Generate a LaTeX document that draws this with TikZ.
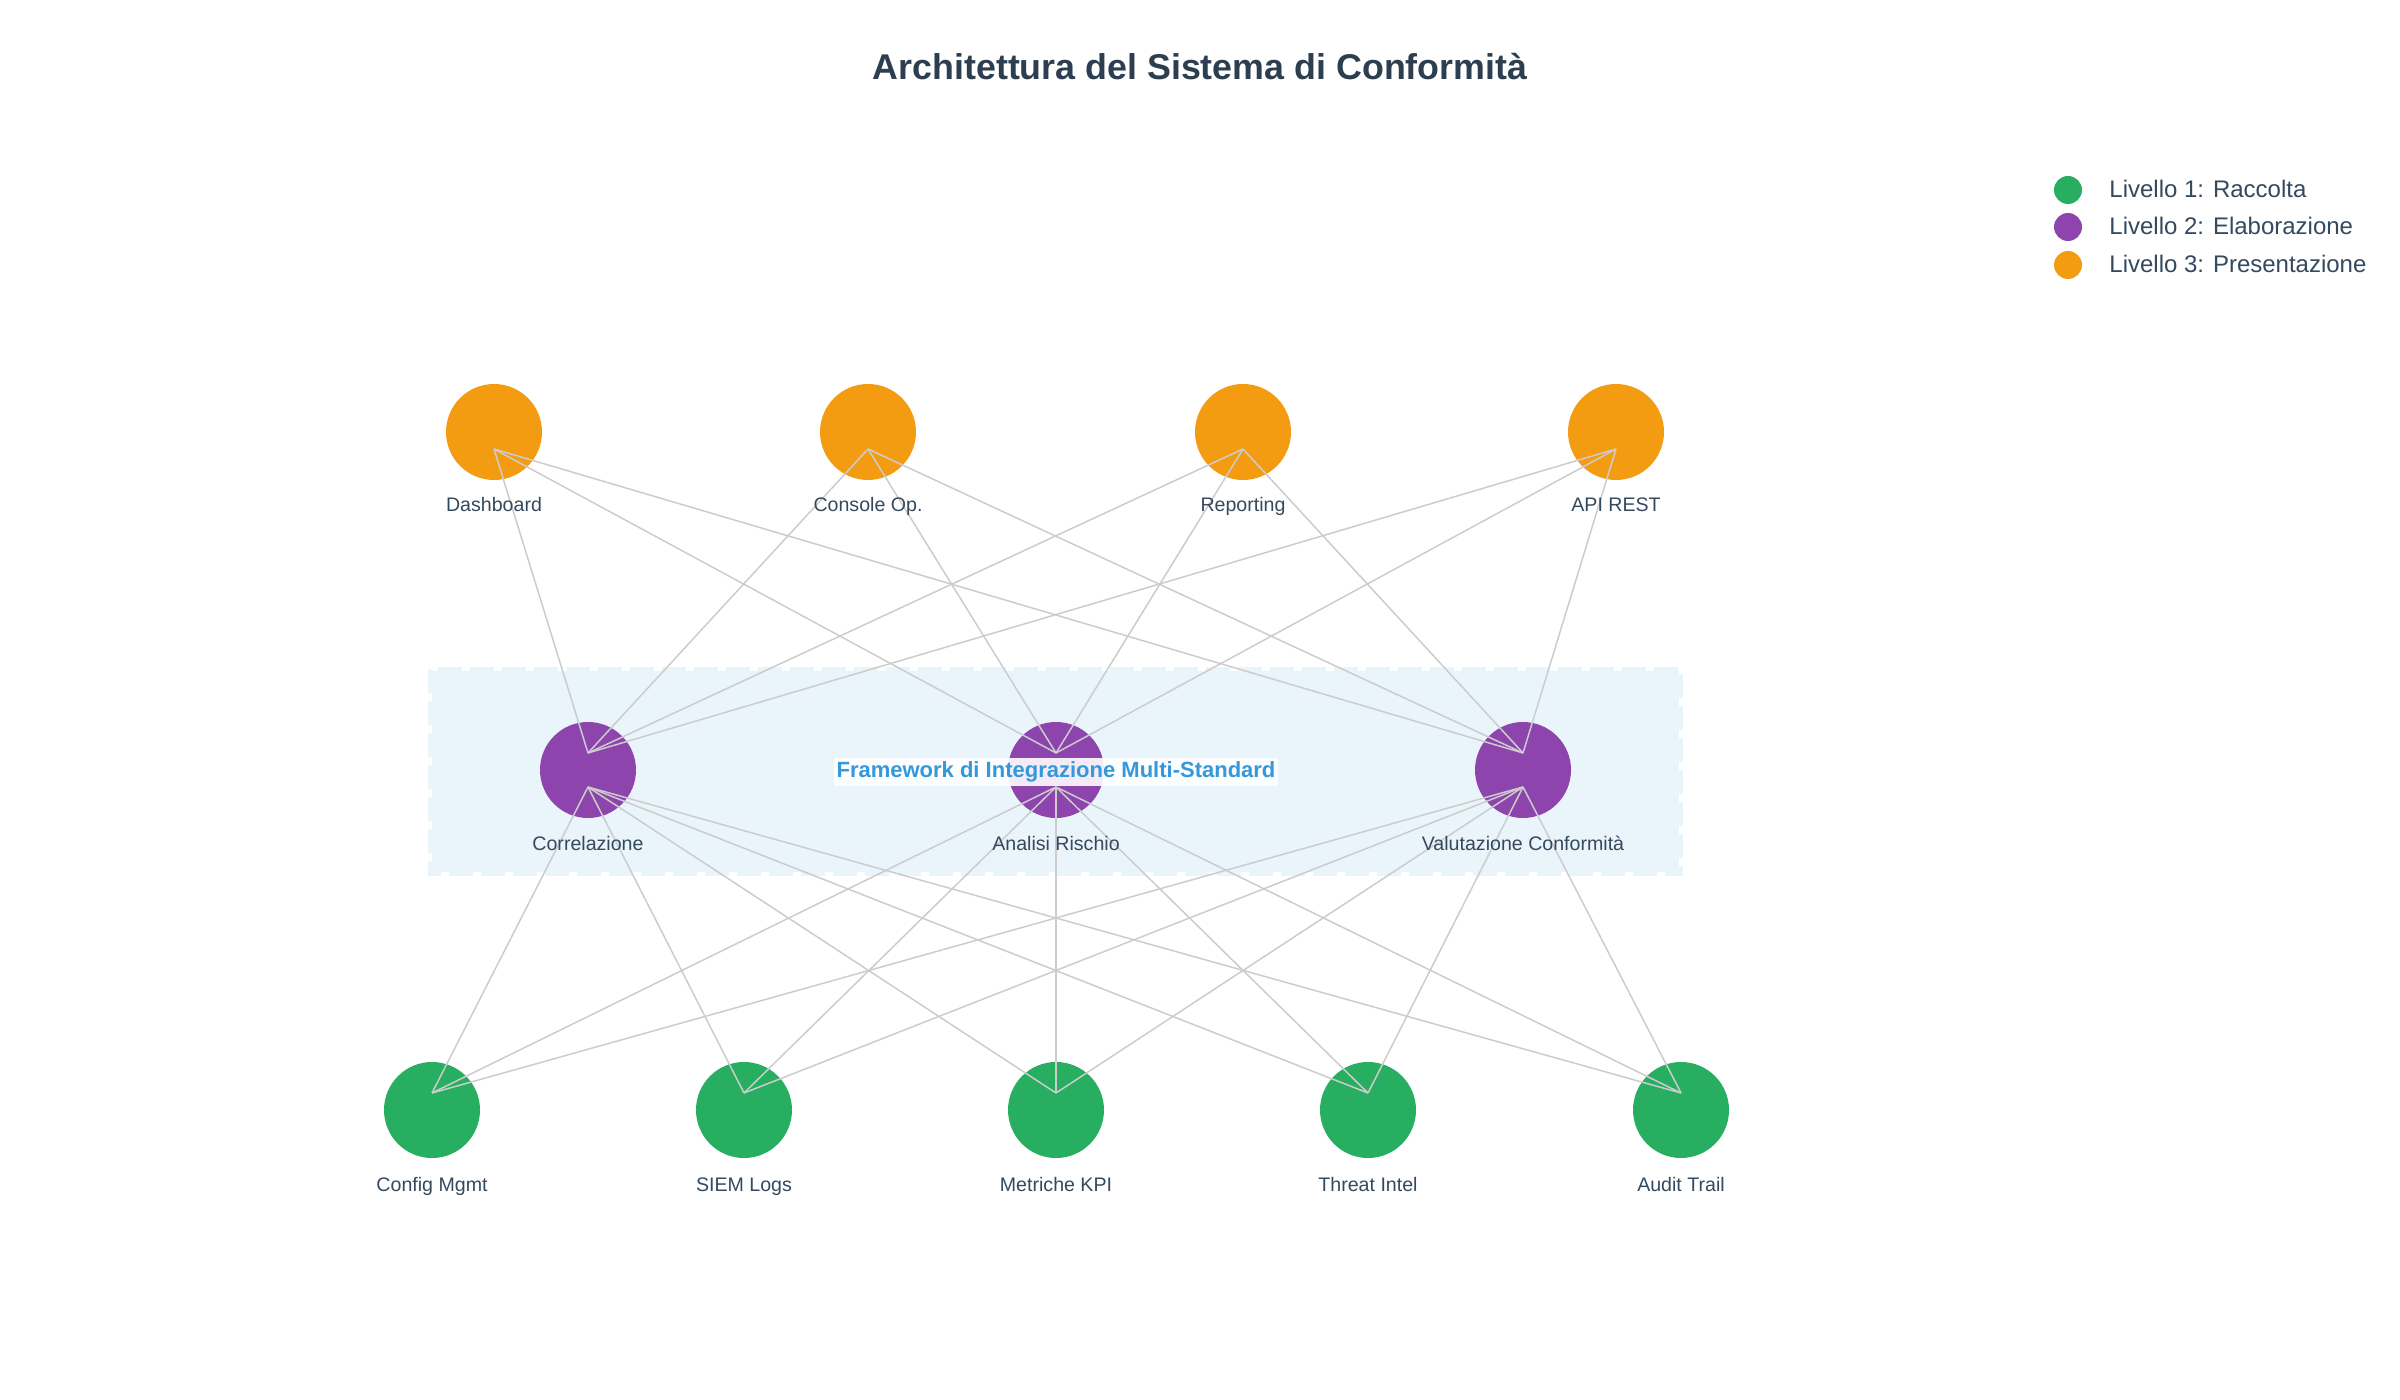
\documentclass[tikz,border=0pt]{standalone}
\usepackage{fontspec}
\setmainfont{Liberation Sans}
\usetikzlibrary{calc}
\definecolor{cOrange}{HTML}{F39C12}
\definecolor{cPurple}{HTML}{8E44AD}
\definecolor{cGreen}{HTML}{27AE60}
\definecolor{cText}{HTML}{2C3E50}
\definecolor{cLabel}{HTML}{34495E}
\definecolor{cEdge}{HTML}{CCCCCC}
\definecolor{cBand}{HTML}{EAF4FB}
\definecolor{cBlue}{HTML}{3498DB}
\tikzset{
  nd/.style={circle, minimum size=48pt, inner sep=0pt, draw=none},
  ndO/.style={nd, fill=cOrange},
  ndP/.style={nd, fill=cPurple},
  ndG/.style={nd, fill=cGreen},
  lbl/.style={font=\fontsize{9.8}{11}\selectfont, text=cLabel, inner sep=0pt, text height=7pt, text depth=2pt},
  edge/.style={draw=cEdge, line width=0.75pt},
  legdot/.style={circle, minimum size=14pt, inner sep=0pt},
  legtxt/.style={font=\fontsize{12}{14}\selectfont, text=cLabel, anchor=west, inner sep=0pt, text height=8.6pt, text depth=2.5pt},
}
\begin{document}
\begin{tikzpicture}[x=0.5pt,y=-0.5pt]
\useasboundingbox (0,0) rectangle (2400,1400);
% background band
\fill[cBand] (432,671) rectangle (1679,872);
\draw[cBand, line width=2pt, dash pattern=on 12pt off 4pt] (430,669) rectangle (1681,874);
% title
\node[font=\bfseries\fontsize{17.9}{20}\selectfont, text=cText] (title) at (1200,67) {Architettura del Sistema di Conformità};
% orange nodes
\node[ndO] (dash) at (494,432) {};
\node[ndO] (cons) at (868,432) {};
\node[ndO] (repo) at (1243,432) {};
\node[ndO] (api)  at (1616,432) {};
% purple nodes
\node[ndP] (corr) at (588,770) {};
\node[ndP] (anal) at (1056,770) {};
\node[ndP] (valu) at (1523,770) {};
% green nodes
\node[ndG] (conf) at (432,1110) {};
\node[ndG] (siem) at (744,1110) {};
\node[ndG] (metr) at (1056,1110) {};
\node[ndG] (thre) at (1368,1110) {};
\node[ndG] (audi) at (1681,1110) {};
% connection points
\foreach \n in {dash,cons,repo,api,corr,anal,valu}{
  \coordinate (\n-lo) at ($(\n.center)+(0,17)$);
}
\foreach \n in {corr,anal,valu,conf,siem,metr,thre,audi}{
  \coordinate (\n-hi) at ($(\n.center)+(0,-17)$);
}
% edges top
\foreach \a in {dash,cons,repo,api}{
  \foreach \b in {corr,anal,valu}{
    \draw[edge] (\a-lo) -- (\b-hi);
  }
}
% edges bottom
\foreach \a in {corr,anal,valu}{
  \foreach \b in {conf,siem,metr,thre,audi}{
    \draw[edge] (\a-lo) -- (\b-hi);
  }
}
% labels
\node[lbl] (l-dash) at (494,507) {Dashboard};
\node[lbl] (l-cons) at (868,507) {Console Op.};
\node[lbl] (l-repo) at (1243,507) {Reporting};
\node[lbl] (l-api)  at (1616,507) {API REST};
\node[lbl] (l-corr) at (588,846) {Correlazione};
\node[lbl] (l-anal) at (1056,846) {Analisi Rischio};
\node[lbl] (l-valu) at (1523,846) {Valutazione Conformità};
\node[lbl] (l-conf) at (432,1186) {Config Mgmt};
\node[lbl] (l-siem) at (744,1186) {SIEM Logs};
\node[lbl] (l-metr) at (1056,1186) {Metriche KPI};
\node[lbl] (l-thre) at (1368,1186) {Threat Intel};
\node[lbl] (l-audi) at (1681,1186) {Audit Trail};
% framework label
\node[font=\bfseries\fontsize{11}{13}\selectfont, text=cBlue, fill=white, fill opacity=0.9, text opacity=1, inner xsep=1.5pt, inner ysep=2pt, text height=8pt, text depth=2.3pt] (fw) at (1056,772) {Framework di Integrazione Multi-Standard};
% legend
\node[legdot, fill=cGreen]  (lg1) at (2068,190) {};
\node[legdot, fill=cPurple] (lg2) at (2068,227) {};
\node[legdot, fill=cOrange] (lg3) at (2068,265) {};
\node[legtxt] (lt1) at (2109,191) {Livello 1: Raccolta};
\node[legtxt] (lt2) at (2109,228) {Livello 2: Elaborazione};
\node[legtxt] (lt3) at (2109,266) {Livello 3: Presentazione};
\end{tikzpicture}
\end{document}
